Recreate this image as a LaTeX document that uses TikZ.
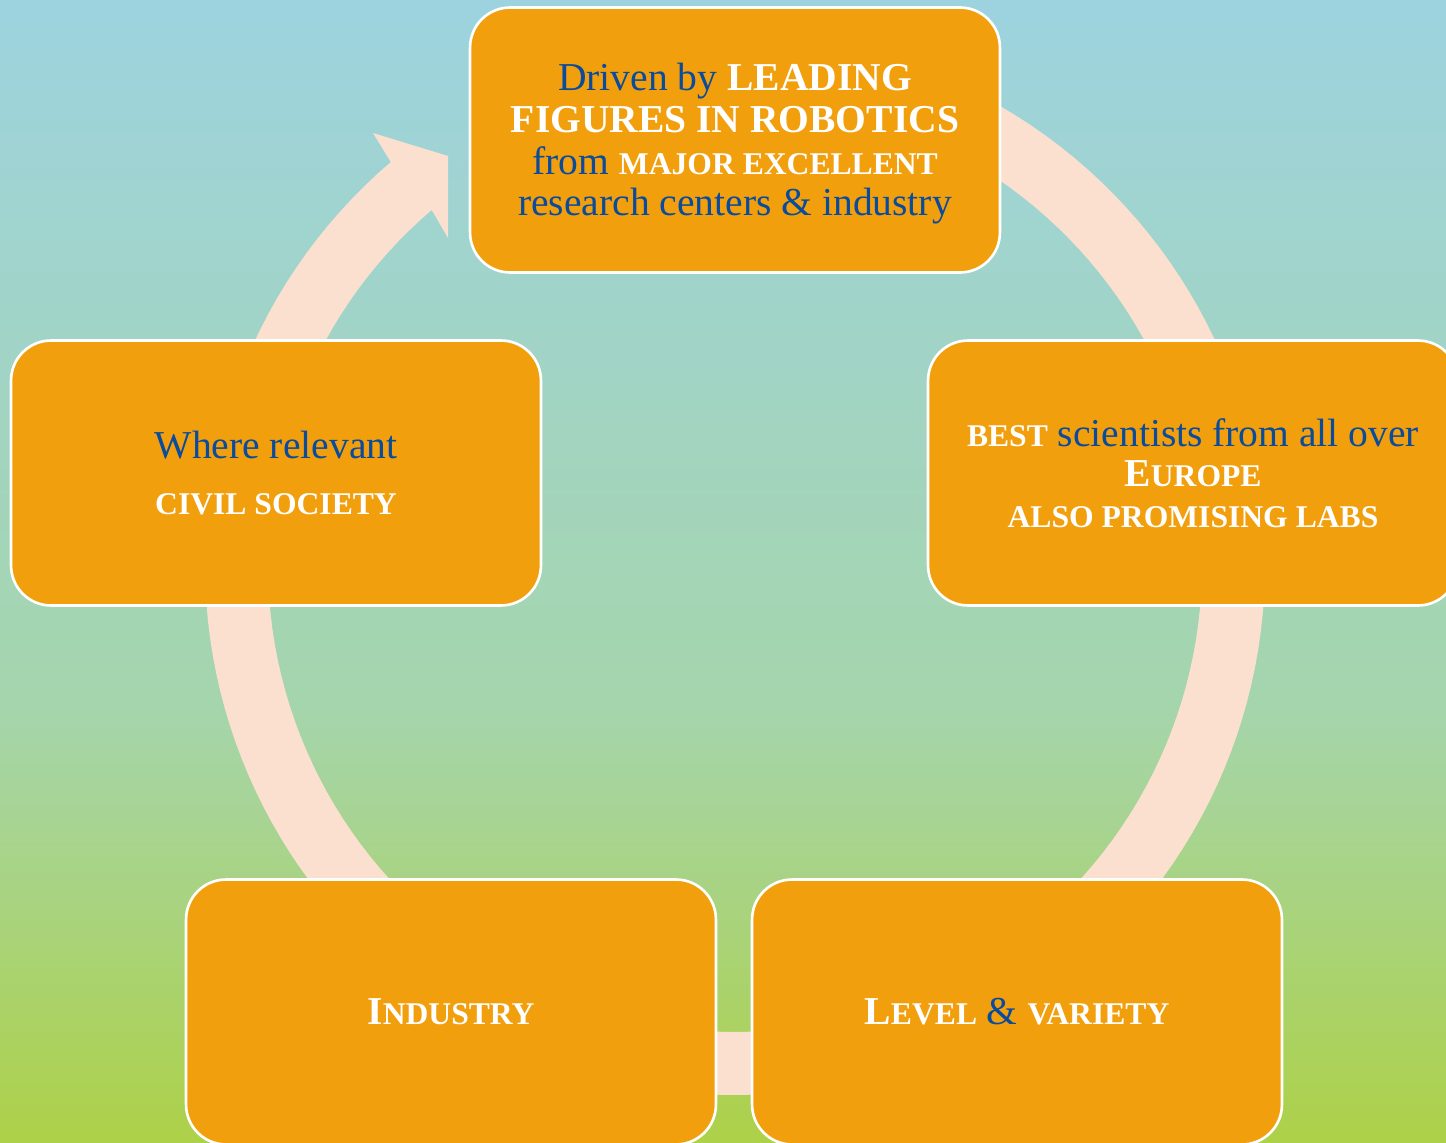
\documentclass[tikz,border=0pt]{standalone}
\usepackage{fontspec}
\setmainfont{Liberation Serif}
\definecolor{bgtop}{RGB}{157,211,223}
\definecolor{bgmid}{RGB}{165,213,172}
\definecolor{bgbot}{RGB}{173,209,72}
\definecolor{ringc}{RGB}{251,224,208}
\definecolor{boxc}{RGB}{242,159,14}
\definecolor{tblue}{RGB}{10,75,155}
\newcommand\smc[1]{{\fontsize{18}{23.2}\selectfont #1}}
\newcommand\bl[1]{\textcolor{tblue}{#1}}
\tikzset{
  box/.style={draw=white, line width=1.5pt, fill=boxc, rounded corners=0.8cm,
    minimum width=10.6cm, minimum height=5.3cm, align=center, inner sep=0pt,
    text=white, font=\fontsize{22.5}{23.2}\selectfont}
}
\begin{document}
\begin{tikzpicture}[x=0.02cm, y=-0.02cm]
\useasboundingbox (0,0) rectangle (1446,1142);
\clip (0,0) rectangle (1446,1142);
% background gradient
\shade[top color=bgtop, bottom color=bgmid] (0,0) rectangle (1446,710);
\shade[top color=bgmid, bottom color=bgbot] (0,709) rectangle (1446,1142);
% cycle ring with arrowhead
\fill[ringc]
  plot[domain=-75:229.5, samples=160] ({735+530*cos(154.5-\x)},{565+530*sin(154.5-\x)})
  -- plot[domain=-75:229.5, samples=160] ({735+467*cos(\x)},{565+467*sin(\x)})
  -- (448,238) -- (448,156) -- (373,133) -- cycle;
% boxes
\node[box] (top) at (735,140) {\rule{0pt}{20pt}\bl{Driven by} \textbf{LEADING}\\[0.5pt]
  \textbf{FIGURES IN ROBOTICS}\\[0.5pt]
  \bl{from} \textbf{\smc{MAJOR EXCELLENT}}\\[0.5pt]
  \bl{research centers \& industry}};
\node[box] (right) at (1193,473) {\textbf{\smc{BEST}} \bl{scientists from all over}\\
  \textbf{E\smc{UROPE}}\\
  \textbf{\smc{ALSO PROMISING LABS}}};
\node[box] (left) at (276,473) {\bl{Where relevant}\\[9pt]
  \textbf{\smc{CIVIL SOCIETY}}};
\node[box] (botleft) at (451,1012) {\textbf{I\smc{NDUSTRY}}};
\node[box] (botright) at (1017,1012) {\textbf{L\smc{EVEL}} \bl{\&} \textbf{\smc{VARIETY}}};
\end{tikzpicture}
\end{document}
